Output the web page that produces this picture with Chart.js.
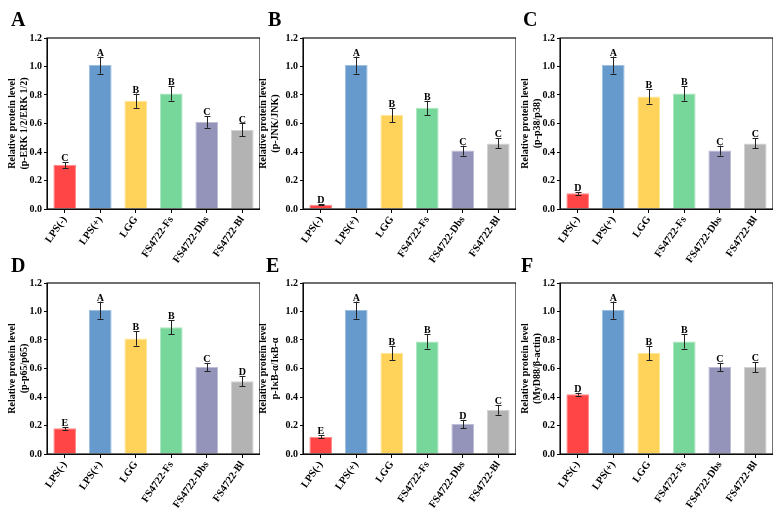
<!DOCTYPE html>
<html>
<head>
<meta charset="utf-8">
<script src="https://cdn.jsdelivr.net/npm/chart.js@4.4.0/dist/chart.umd.min.js"></script>
<style>
  html, body { margin: 0; padding: 0; background: #fff; }
  #wrap { position: relative; width: 784px; height: 513px; overflow: hidden; }
  #wrap canvas { position: absolute; }
  .tag { position: absolute; font: bold 20px "Liberation Serif", serif; color: #000; line-height: 20px; }
</style>
</head>
<body>
<div id="wrap"></div>
<script>
// --- data ---
const categories = ['LPS(-)', 'LPS(+)', 'LGG', 'FS4722-Fs', 'FS4722-Dbs', 'FS4722-Bl'];
const yTicks = [0, 0.2, 0.4, 0.6, 0.8, 1.0, 1.2];

const erkValues = [0.31, 1.01, 0.76, 0.81, 0.61, 0.555];
const erkErrors = [0.02, 0.06, 0.05, 0.05, 0.04, 0.045];
const erkLetters = ['C', 'A', 'B', 'B', 'C', 'C'];

const jnkValues = [0.03, 1.01, 0.66, 0.71, 0.41, 0.46];
const jnkErrors = [0.005, 0.06, 0.05, 0.05, 0.035, 0.035];
const jnkLetters = ['D', 'A', 'B', 'B', 'C', 'C'];

const p38Values = [0.11, 1.01, 0.79, 0.81, 0.41, 0.46];
const p38Errors = [0.01, 0.06, 0.05, 0.05, 0.035, 0.035];
const p38Letters = ['D', 'A', 'B', 'B', 'C', 'C'];

const p65Values = [0.18, 1.01, 0.81, 0.89, 0.61, 0.51];
const p65Errors = [0.01, 0.06, 0.05, 0.05, 0.03, 0.035];
const p65Letters = ['E', 'A', 'B', 'B', 'C', 'D'];

const ikbValues = [0.12, 1.01, 0.71, 0.79, 0.21, 0.31];
const ikbErrors = [0.01, 0.06, 0.05, 0.05, 0.03, 0.035];
const ikbLetters = ['E', 'A', 'B', 'B', 'D', 'C'];

const myd88Values = [0.42, 1.01, 0.71, 0.79, 0.61, 0.61];
const myd88Errors = [0.01, 0.06, 0.05, 0.05, 0.03, 0.035];
const myd88Letters = ['D', 'A', 'B', 'B', 'C', 'C'];

const barColors = ['#ff4545', '#6699cc', '#ffd35a', '#77d699', '#9494ba', '#b3b3b3'];
const barEdges  = ['#ff8a8a', '#9dbfe0', '#ffe499', '#aee6c1', '#bdbdd6', '#d2d2d2'];

const FONT = '"Liberation Serif", "Times New Roman", serif';

const panels = [
  { tag: 'A', values: erkValues, errors: erkErrors, letters: erkLetters, title: ['Relative protein level', '(p-ERK 1/2/ERK 1/2)'],
    canvasLeft: 7, plotLeft: 47, plotRight: 260, row: 0, tagX: 11, tagY: 9 },
  { tag: 'B', values: jnkValues, errors: jnkErrors, letters: jnkLetters, title: ['Relative protein level', '(p-JNK/JNK)'],
    canvasLeft: 258, plotLeft: 303, plotRight: 516, row: 0, tagX: 268, tagY: 9 },
  { tag: 'C', values: p38Values, errors: p38Errors, letters: p38Letters, title: ['Relative protein level', '(p-p38/p38)'],
    canvasLeft: 520, plotLeft: 560, plotRight: 773, row: 0, tagX: 523, tagY: 9 },
  { tag: 'D', values: p65Values, errors: p65Errors, letters: p65Letters, title: ['Relative protein level', '(p-p65/p65)'],
    canvasLeft: 7, plotLeft: 47, plotRight: 260, row: 1, tagX: 11, tagY: 255 },
  { tag: 'E', values: ikbValues, errors: ikbErrors, letters: ikbLetters, title: ['Relative protein level', 'p-IκB-α/IκB-α'],
    canvasLeft: 258, plotLeft: 303, plotRight: 516, row: 1, tagX: 266, tagY: 255 },
  { tag: 'F', values: myd88Values, errors: myd88Errors, letters: myd88Letters, title: ['Relative protein level', '(MyD88/β-actin)'],
    canvasLeft: 520, plotLeft: 560, plotRight: 773, row: 1, tagX: 521, tagY: 255 }
];

// rows: canvas top, plot top, plot bottom, canvas height
const rows = [
  { canvasTop: 0, plotTop: 38, plotBottom: 209, height: 300 },
  { canvasTop: 245, plotTop: 283, plotBottom: 454, height: 268 }
];

// error bars, significance letters and the closed frame
const errorBarPlugin = {
  id: 'errorBars',
  afterDatasetsDraw(chart, args, opts) {
    const { ctx, chartArea: a, scales: { y } } = chart;
    const meta = chart.getDatasetMeta(0);
    ctx.save();
    ctx.strokeStyle = '#222';
    ctx.lineWidth = 1;
    meta.data.forEach((bar, i) => {
      const v = opts.values[i], e = opts.errors[i];
      const x = Math.round(bar.x) + 0.5;
      const yTop = y.getPixelForValue(v + e);
      const yBot = y.getPixelForValue(v - e);
      ctx.beginPath();
      ctx.moveTo(x, yTop); ctx.lineTo(x, yBot);
      ctx.moveTo(x - 3, Math.round(yTop) + 0.5); ctx.lineTo(x + 3, Math.round(yTop) + 0.5);
      ctx.moveTo(x - 3, Math.round(yBot) + 0.5); ctx.lineTo(x + 3, Math.round(yBot) + 0.5);
      ctx.stroke();
      ctx.fillStyle = '#000';
      ctx.font = 'bold 10px ' + FONT;
      ctx.textAlign = 'center';
      ctx.textBaseline = 'alphabetic';
      ctx.fillText(opts.letters[i], bar.x, yTop - 1);
    });
    ctx.strokeStyle = '#111';
    ctx.lineWidth = 1.2;
    ctx.strokeRect(a.left, a.top, a.right - a.left, a.bottom - a.top);
    ctx.restore();
  }
};

const wrap = document.getElementById('wrap');

panels.forEach(p => {
  const r = rows[p.row];
  const canvas = document.createElement('canvas');
  const w = p.plotRight - p.canvasLeft;
  canvas.width = w;
  canvas.height = r.height;
  canvas.style.width = w + 'px';
  canvas.style.height = r.height + 'px';
  canvas.style.left = p.canvasLeft + 'px';
  canvas.style.top = r.canvasTop + 'px';
  wrap.appendChild(canvas);

  const tag = document.createElement('div');
  tag.className = 'tag';
  tag.textContent = p.tag;
  tag.style.left = p.tagX + 'px';
  tag.style.top = p.tagY + 'px';
  wrap.appendChild(tag);

  const yWidth = p.plotLeft - p.canvasLeft;
  const xHeight = r.canvasTop + r.height - r.plotBottom;

  new Chart(canvas.getContext('2d'), {
    type: 'bar',
    data: {
      labels: categories,
      datasets: [{
        data: p.values,
        backgroundColor: barColors,
        borderColor: barEdges,
        borderWidth: 1,
        barPercentage: 0.64,
        categoryPercentage: 1
      }]
    },
    options: {
      responsive: false,
      animation: false,
      devicePixelRatio: 1,
      layout: { padding: { top: r.plotTop - r.canvasTop, left: 0, right: 0, bottom: 0 } },
      plugins: {
        legend: { display: false },
        tooltip: { enabled: false },
        errorBars: { values: p.values, errors: p.errors, letters: p.letters }
      },
      scales: {
        x: {
          grid: { display: true, drawOnChartArea: false, offset: false, tickLength: 4, color: '#000' },
          border: { color: '#000', width: 1 },
          ticks: {
            color: '#000', autoSkip: false, minRotation: 55, maxRotation: 55, padding: 1,
            font: { family: FONT, size: 10.5, weight: 'bold' }
          },
          afterFit: s => { s.height = xHeight; }
        },
        y: {
          min: 0,
          max: 1.2,
          afterBuildTicks: s => { s.ticks = yTicks.map(v => ({ value: v })); },
          ticks: {
            color: '#000', padding: 2,
            font: { family: FONT, size: 10, weight: 'bold' },
            callback: v => Number(v).toFixed(1)
          },
          grid: { display: true, drawOnChartArea: false, tickLength: 3, color: '#000' },
          border: { color: '#000', width: 1 },
          title: {
            display: true,
            text: p.title,
            color: '#000',
            font: { family: FONT, size: 10, weight: 'bold', lineHeight: 1.15 },
            padding: { top: 0, bottom: 0 }
          },
          afterFit: s => { s.width = yWidth; }
        }
      }
    },
    plugins: [errorBarPlugin]
  });
});
</script>
</body>
</html>
